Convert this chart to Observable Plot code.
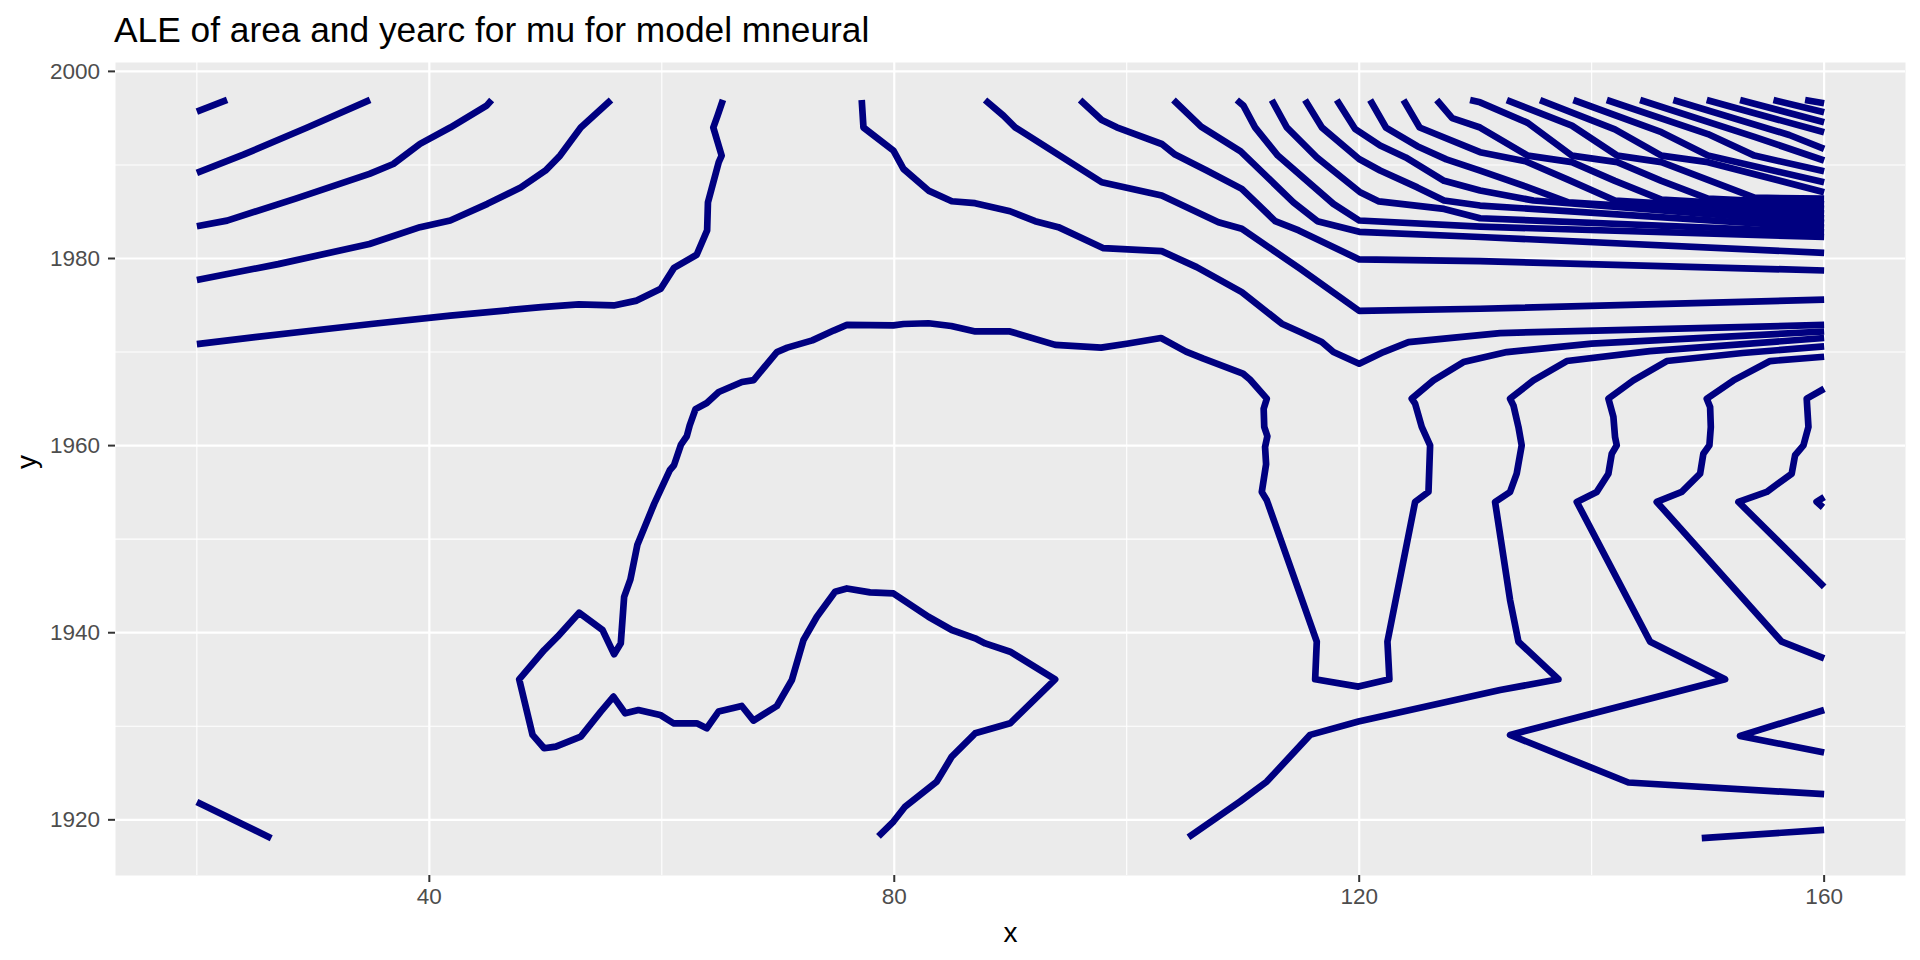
<!DOCTYPE html>
<html>
<head>
<meta charset="utf-8">
<script src="https://cdn.jsdelivr.net/npm/d3@7"></script>
<script src="https://cdn.jsdelivr.net/npm/@observablehq/plot@0.6"></script>
<style>
  html, body { margin: 0; padding: 0; background: #ffffff; }
  #title { height: 38px; padding-top: 12px; padding-left: 114px; line-height: 35px;
           font-family: "Liberation Sans", Arial, sans-serif; font-size: 35.3px; color: #000; white-space: nowrap; }
  #chart svg { display: block; }
</style>
</head>
<body>
<div id="title">ALE of area and yearc for mu for model mneural</div>
<div id="chart"></div>
<script>
// ---- axis ticks ----
const xTicks = [40, 80, 120, 160];
const xMinor = [20, 60, 100, 140];
const yTicks = [1920, 1940, 1960, 1980, 2000];
const yMinor = [1930, 1950, 1970, 1990];

// ---- contour lines: [x, y] pairs ----
const c01 = [[20,1995.7],[22.6,1996.95]];
const c02 = [[20,1989.15],[24,1991.1],[29.5,1994.0],[34.9,1996.95]];
const c03 = [[20,1983.45],[22.6,1984.05],[28.5,1986.4],[34.85,1989.05],[36.9,1990.1],[39.2,1992.25],[41.8,1994.0],[44.93,1996.34],[45.36,1996.95]];
const c04 = [[20,1977.7],[27,1979.4],[34.85,1981.55],[39.2,1983.35],[41.8,1984.06],[45.0,1985.84],[47.86,1987.6],[49.99,1989.4],[51.25,1991.0],[53.03,1994.0],[55.63,1996.95]];
const c05 = [[20,1970.85],[25,1971.6],[30,1972.3],[35,1973.0],[41.8,1973.9],[49.64,1974.8],[52.85,1975.1],[55.87,1974.98],[57.84,1975.5],[59.91,1976.77],[61.05,1979.0],[63.0,1980.4],[63.9,1983.0],[63.97,1986.0],[64.9,1990.3],[65.15,1991.0],[64.43,1994.0],[64.8,1995.27],[65.26,1996.95]];
const c06 = [[77.2,1996.95],[77.35,1994.0],[79.93,1991.53],[80.79,1989.58],[82.94,1987.26],[84.95,1986.12],[86.95,1985.91],[89.96,1985.05],[92.12,1983.99],[94.12,1983.35],[98.0,1981.1],[103.01,1980.79],[106.02,1979.08],[109.9,1976.41],[113.34,1973.03],[114.92,1972.14],[116.78,1971.07],[117.78,1970.0],[120,1968.75],[122.09,1970.0],[124.24,1971.07],[132.12,1972.03],[160,1972.9]];
const c07 = [[87.81,1996.94],[89.39,1995.27],[90.4,1994.02],[97.85,1988.15],[103.01,1986.73],[107.89,1983.88],[109.9,1983.17],[114.92,1978.9],[120.0,1974.4],[130.4,1974.63],[160,1975.6]];
const c08 = [[95.99,1996.94],[97.85,1994.81],[99.14,1994.02],[103.01,1992.24],[104.16,1991.11],[106.88,1989.4],[109.9,1987.44],[112.77,1984.0],[114.8,1983.0],[120.0,1979.9],[130.4,1979.72],[160,1978.72]];
const c09 = [[104.02,1996.94],[106.4,1994.1],[109.8,1991.45],[114.34,1986.0],[116.4,1983.99],[120,1982.85],[130.4,1982.3],[160,1980.6]];
const c10 = [[109.47,1996.94],[110.04,1996.34],[111.04,1994.02],[113.0,1991.0],[117.78,1985.84],[120.0,1984.06],[130.4,1983.4],[160,1982.3]];
const f01 = [[112.48,1996.94],[113.77,1994.02],[116.35,1990.82],[120.08,1987.08],[121.7,1986.1],[127.3,1985.3],[130.4,1984.3],[160,1982.8]];
const f02 = [[115.34,1996.94],[116.78,1994.02],[119.99,1990.64],[121.8,1989.4],[125,1987.6],[127.3,1986.2],[130.4,1985.66],[160,1983.3]];
const f03 = [[118.07,1996.94],[119.65,1993.85],[121.8,1992.07],[124,1990.8],[127.3,1988.3],[130.4,1987.26],[135,1986.2],[160,1983.8]];
const f04 = [[120.94,1996.94],[122.3,1994.0],[125,1992.0],[127.5,1990.6],[130.4,1989.4],[134.3,1987.7],[138,1986.0],[160,1984.3]];
const f05 = [[123.81,1996.94],[125.2,1994.0],[130.4,1991.36],[134.3,1990.4],[138,1988.4],[142,1986.2],[160,1984.8]];
const f06 = [[126.67,1996.94],[128,1995.0],[130.4,1994.0],[134.5,1991.0],[138.3,1990.3],[142,1988.3],[146,1986.3],[160,1985.3]];
const f07 = [[129.54,1996.94],[130.4,1996.69],[134.5,1994.5],[138.3,1991.0],[142.2,1990.3],[146,1988.3],[150,1986.4],[160,1985.8]];
const f08 = [[132.7,1996.94],[138.3,1994.2],[142.2,1991.0],[146,1990.3],[150,1988.4],[154,1986.5],[160,1986.4]];
const f09 = [[135.56,1996.94],[142,1993.8],[146,1991.0],[150,1990.3],[160,1987.08]];
const f10 = [[138.43,1996.94],[146,1993.5],[150,1991.0],[160,1988.15]];
const f11 = [[141.3,1996.94],[150,1993.3],[154,1991.0],[160,1989.33]];
const f12 = [[144.17,1996.94],[154,1993.0],[160,1990.47]];
const f13 = [[147.03,1996.94],[157,1993.2],[160,1991.71]];
const f14 = [[149.9,1996.94],[160,1993.49]];
const f15 = [[152.77,1996.94],[160,1994.56]];
const f16 = [[155.64,1996.94],[160,1995.63]];
const f17 = [[158.36,1996.94],[160,1996.59]];
const c11 = [[78.64,1918.22],[79.93,1919.82],[80.94,1921.42],[83.66,1924.09],[84.95,1926.76],[86.96,1929.25],[89.97,1930.32],[93.84,1935.02],[89.97,1937.97],[87.82,1938.86],[86.96,1939.4],[84.95,1940.29],[82.94,1941.71],[79.93,1944.2],[77.92,1944.31],[75.92,1944.73],[74.91,1944.38],[73.34,1941.71],[72.19,1939.22],[71.19,1934.95],[69.9,1932.17],[67.89,1930.61],[66.88,1932.17],[64.88,1931.57],[63.87,1929.79],[63.01,1930.32],[61.0,1930.32],[59.86,1931.21],[57.99,1931.74],[56.85,1931.39],[55.84,1933.17],[54.75,1931.57],[53.03,1928.9],[50.88,1927.83],[49.88,1927.65],[48.88,1929.08],[47.73,1935.02],[49.88,1938.15],[51.03,1939.57],[52.89,1942.14],[54.9,1940.29],[55.9,1937.69],[56.47,1938.86],[56.76,1943.84],[57.3,1945.7],[57.9,1949.4],[59.35,1953.8],[60.7,1957.4],[61.05,1957.9],[61.65,1960.1],[62.15,1961.0],[62.4,1962.17],[62.9,1963.9],[63.87,1964.56],[64.9,1965.73],[66.9,1966.8],[67.9,1967.0],[69.9,1970.0],[70.8,1970.47],[72.95,1971.25],[74.78,1972.3],[75.93,1972.9],[79.93,1972.85],[80.8,1973.0],[82.95,1973.08],[84.9,1972.78],[86.97,1972.2],[89.95,1972.2],[93.85,1970.77],[97.8,1970.47],[100.0,1970.89],[102.95,1971.5],[105.1,1970.05],[106.6,1969.29],[110.0,1967.69],[110.6,1967.06],[112.05,1965.02],[111.78,1963.95],[111.83,1962.0],[112.1,1961.0],[111.9,1959.86],[111.99,1958.0],[111.62,1955.05],[112.05,1954.16],[116.35,1939.04],[116.21,1935.02],[119.93,1934.24],[122.6,1935.02],[122.43,1939.04],[124.81,1953.98],[125.96,1955.05],[126.1,1960.03],[125.38,1962.0],[124.81,1964.48],[124.52,1965.02],[126.39,1966.97],[128.97,1968.93],[132.7,1970.0],[140,1970.9],[160,1972.2]];
const c12 = [[105.31,1918.15],[109.75,1921.96],[112.05,1924.09],[115.78,1929.08],[119.93,1930.5],[132.12,1933.88],[137.14,1935.02],[133.7,1939.04],[132.98,1943.49],[131.69,1953.98],[132.98,1955.05],[133.55,1957.0],[133.98,1960.03],[133.7,1962.0],[133.27,1964.3],[132.98,1965.02],[134.99,1966.97],[137.86,1969.04],[145,1970.1],[160,1971.5]];
const c13 = [[160,1922.74],[143.16,1923.99],[132.98,1929.08],[151.48,1935.02],[145.03,1939.04],[138.72,1953.98],[140.44,1955.05],[141.44,1957.0],[141.73,1959.14],[142.16,1960.03],[142.01,1960.92],[141.87,1963.06],[141.44,1965.02],[143.59,1966.97],[146.46,1969.04],[153,1969.9],[160,1970.6]];
const c14 = [[160,1937.26],[156.35,1939.04],[145.6,1953.98],[147.75,1955.05],[149.33,1957.0],[149.61,1959.14],[150.13,1960.03],[150.25,1962.0],[150.19,1964.13],[149.9,1965.02],[152.2,1966.97],[155.35,1969.04],[160,1969.5]];
const c15 = [[160,1944.91],[152.63,1953.98],[155.06,1955.05],[157.21,1957.0],[157.5,1958.97],[158.22,1960.03],[158.65,1962.0],[158.5,1965.02],[160,1966.08]];
const c16 = [[160,1954.5],[159.35,1954.0],[159.9,1953.4]];
const c17 = [[160,1931.74],[152.77,1928.97],[160,1927.19]];
const c18 = [[149.47,1918.04],[160,1918.93]];
const c19 = [[20,1921.9],[26.4,1918.04]];

const contours = [c01,c02,c03,c04,c05,c06,c07,c08,c09,c10,
  f01,f02,f03,f04,f05,f06,f07,f08,f09,f10,f11,f12,f13,f14,f15,f16,f17,
  c11,c12,c13,c14,c15,c16,c17,c18,c19];
const rows = contours.flatMap((pts, i) => pts.map(([x, y]) => ({x, y, id: i})));

const chart = Plot.plot({
  width: 1920,
  height: 910,
  marginLeft: 115,
  marginRight: 15,
  marginTop: 12,
  marginBottom: 85,
  x: {domain: [13, 167]},
  y: {domain: [1914.05, 2000.95]},
  style: {fontFamily: "'Liberation Sans', Arial, sans-serif", fontSize: "22.5px", background: "#ffffff", overflow: "visible"},
  marks: [
    Plot.frame({fill: "#EBEBEB", stroke: "none"}),
    Plot.gridX(xMinor, {stroke: "#ffffff", strokeOpacity: 1, strokeWidth: 1.1}),
    Plot.gridY(yMinor, {stroke: "#ffffff", strokeOpacity: 1, strokeWidth: 1.1}),
    Plot.gridX(xTicks, {stroke: "#ffffff", strokeOpacity: 1, strokeWidth: 2.2}),
    Plot.gridY(yTicks, {stroke: "#ffffff", strokeOpacity: 1, strokeWidth: 2.2}),
    Plot.line(rows, {x: "x", y: "y", z: "id", stroke: "#000080", strokeWidth: 6.7,
      strokeLinecap: "butt", strokeLinejoin: "round"}),
    Plot.axisX(xTicks, {tickSize: 7, tickPadding: 6, stroke: "#333333", strokeWidth: 2,
      fill: "#4D4D4D", label: null, fontSize: 22.5}),
    Plot.axisY(yTicks, {tickSize: 7, tickPadding: 8.5, stroke: "#333333", strokeWidth: 2,
      fill: "#4D4D4D", label: null, fontSize: 22.5, tickFormat: d => String(d)}),
    Plot.text(["x"], {text: d => d, frameAnchor: "bottom", dy: 66, fontSize: 28, fill: "#000000"}),
    Plot.text(["y"], {text: d => d, frameAnchor: "left", dx: -88, rotate: -90, fontSize: 28, fill: "#000000"})
  ]
});
document.getElementById("chart").appendChild(chart);
</script>
</body>
</html>
